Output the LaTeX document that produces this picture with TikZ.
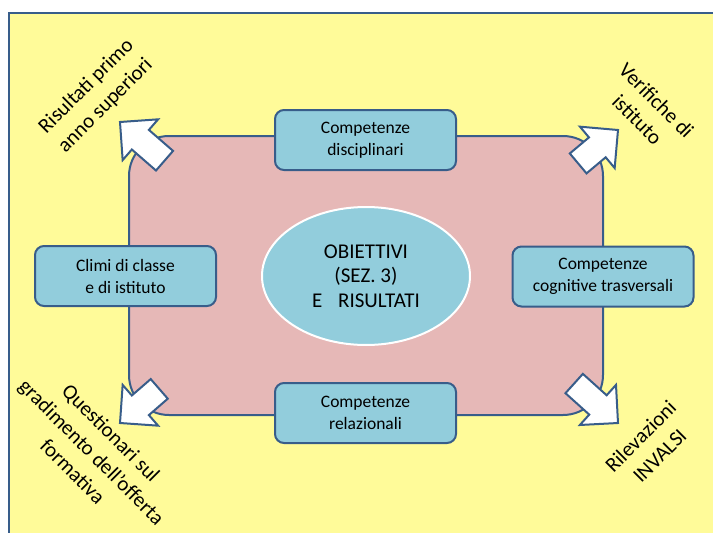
\documentclass[tikz,border=0pt]{standalone}
\usepackage{fontspec}
\setmainfont{Carlito}
\usetikzlibrary{shapes.geometric}
\definecolor{bgyellow}{RGB}{255,251,153}
\definecolor{pinkfill}{RGB}{230,184,183}
\definecolor{boxblue}{RGB}{146,205,220}
\definecolor{edgeblue}{RGB}{56,93,138}
\tikzset{
  compbox/.style={draw=edgeblue, line width=2pt, fill=boxblue, rounded corners=9pt,
    minimum width=181pt, minimum height=60pt, align=center, inner sep=0pt,
    font=\fontsize{17.5}{22}\selectfont},
  centreell/.style={ellipse, draw=white, line width=2pt, fill=boxblue,
    minimum width=208pt, minimum height=138pt, inner sep=0pt, align=center,
    font=\fontsize{21}{24.5}\selectfont},
  outlabel/.style={align=center, font=\fontsize{21}{27}\selectfont, inner sep=0pt},
  blockarrow/.style={draw=edgeblue, line width=2pt, fill=white, line join=miter},
}
\newcommand{\blockarr}[3]{%
  \draw[blockarrow, shift={(#1)}, rotate=#2] (0,0) -- (-27,27) -- (-27,13) -- (-#3,13)
    -- (-#3,-13) -- (-27,-13) -- (-27,-27) -- cycle;}
\begin{document}
\begin{tikzpicture}[x=1pt, y=-1pt]
\useasboundingbox (0,0) rectangle (713,533);
\clip (0,0) rectangle (713,533);
% background
\fill[white] (0,0) rectangle (713,533);
\fill[bgyellow] (9,13) rectangle (720,540);
\draw[edgeblue, line width=2.5pt] (9,545) -- (9,13) -- (720,13);
% pink area
\draw[edgeblue, line width=2pt, fill=pinkfill, rounded corners=40pt] (129,136) rectangle (603,415);
% boxes
\node[compbox] (top) at (365.5,140) {Competenze\\disciplinari};
\node[compbox] (left) at (125.5,276) {Climi di classe\\e di istituto};
\node[compbox] (right) at (603,276.5) {Competenze\\cognitive trasversali};
\node[compbox] (bottom) at (365.5,413) {Competenze\\relazionali};
\node[centreell] (centre) at (366,276) {OBIETTIVI\\(SEZ. 3)\\E\hspace{11pt} RISULTATI};
% arrows
\coordinate (tltip) at (120,122);
\coordinate (trtip) at (618,130);
\coordinate (bltip) at (120,423);
\coordinate (brtip) at (618,423);
\blockarr{tltip}{139}{59}
\blockarr{trtip}{40}{52}
\blockarr{bltip}{221}{52}
\blockarr{brtip}{-42}{59}
% labels
\node[outlabel, rotate=45] (tl) at (96,96) {Risultati primo\\anno superiori};
\node[outlabel, rotate=-45] (tr) at (647,110) {Verifiche di\\istituto};
\node[outlabel, rotate=-45] (bl) at (92,452) {Questionari sul\\gradimento dell’offerta\\formativa};
\node[outlabel, rotate=45] (br) at (650,446) {Rilevazioni\\INVALSI};
\end{tikzpicture}
\end{document}
